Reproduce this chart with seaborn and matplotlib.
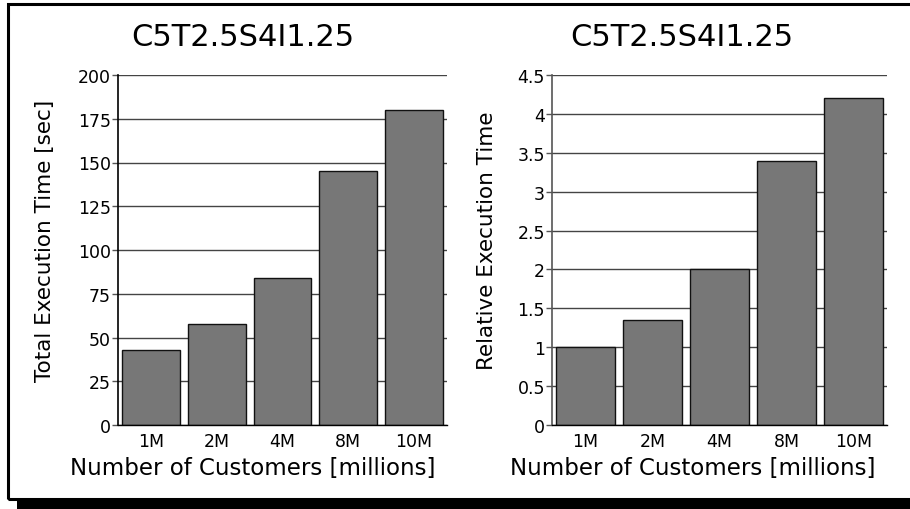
import matplotlib
matplotlib.use("Agg")
import matplotlib.pyplot as plt
import seaborn as sns
import pandas as pd
from matplotlib.patches import Rectangle

# --- data -------------------------------------------------------------
customers = ["1M", "2M", "4M", "8M", "10M"]
total_seconds = [43, 58, 84, 145, 180]
relative_time = [1.0, 1.35, 2.0, 3.4, 4.2]

seconds_ticks = [0, 25, 50, 75, 100, 125, 150, 175, 200]
seconds_labels = ["0", "25", "50", "75", "100", "125", "150", "175", "200"]
relative_ticks = [0, 0.5, 1, 1.5, 2, 2.5, 3, 3.5, 4, 4.5]
relative_labels = ["0", "0.5", "1", "1.5", "2", "2.5", "3", "3.5", "4", "4.5"]

dataset_name = "C5T2.5S4I1.25"
x_title = "Number of Customers [millions]"
y_title_total = "Total Execution Time [sec]"
y_title_relative = "Relative Execution Time"

# --- style ------------------------------------------------------------
sns.set_theme(style="white")
plt.rcParams["font.family"] = ["DejaVu Sans"]
plt.rcParams["text.color"] = "black"
plt.rcParams["axes.labelcolor"] = "black"
plt.rcParams["xtick.color"] = "black"
plt.rcParams["ytick.color"] = "black"

W, H = 910, 510
fig = plt.figure(figsize=(W / 100, H / 100), dpi=100)
fig.patch.set_facecolor("white")


def px_box(left, top, right, bottom):
    return [left / W, 1 - bottom / H, (right - left) / W, (bottom - top) / H]


ax1 = fig.add_axes(px_box(118, 76, 447, 426))
ax2 = fig.add_axes(px_box(552, 76, 887, 426))

panels = [
    dict(ax=ax1, values=total_seconds, ylabel=y_title_total,
         ticks=seconds_ticks, labels=seconds_labels, ylim=(0, 200),
         width=0.88, title_x=0.38, xlabel_x=0.41, ylabel_x=-0.19,
         spine="black"),
    dict(ax=ax2, values=relative_time, ylabel=y_title_relative,
         ticks=relative_ticks, labels=relative_labels, ylim=(0, 4.5),
         width=0.87, title_x=0.388, xlabel_x=0.421, ylabel_x=-0.164,
         spine="#555555"),
]

for p in panels:
    ax = p["ax"]
    df = pd.DataFrame({"customers": customers, "value": p["values"]})
    sns.barplot(data=df, x="customers", y="value", ax=ax,
                color="#777777", saturation=1, width=p["width"],
                edgecolor="#111111", linewidth=1, zorder=3)
    ax.set_facecolor("white")
    ax.set_xlim(-0.5, 4.5)
    ax.set_ylim(*p["ylim"])
    ax.set_yticks(p["ticks"])
    ax.set_yticklabels(p["labels"])
    ax.set_axisbelow(True)
    ax.yaxis.grid(True, color="#444444", linewidth=1)
    ax.xaxis.grid(False)

    for side in ("top", "right"):
        ax.spines[side].set_visible(False)
    ax.spines["left"].set_color(p["spine"])
    ax.spines["left"].set_linewidth(1.2)
    ax.spines["bottom"].set_color("black")
    ax.spines["bottom"].set_linewidth(1)
    ax.spines["left"].set_zorder(4)
    ax.spines["bottom"].set_zorder(4)

    # category labels without marks, short marks between categories
    ax.tick_params(axis="x", which="major", length=0, pad=5,
                   labelsize=12.5, labelcolor="black")
    ax.set_xticks([0.5, 1.5, 2.5, 3.5], minor=True)
    ax.tick_params(axis="x", which="minor", length=4, width=1,
                   direction="out", color="#555555")
    ax.tick_params(axis="y", length=4, width=1, direction="out",
                   color="#555555", pad=1, labelsize=12.5,
                   labelcolor="black", left=True)

    ax.set_title(dataset_name, fontsize=22, color="black", x=p["title_x"],
                 y=1 + 30 / 350, va="baseline", pad=0)

    ax.set_xlabel(x_title, fontsize=16.5, color="black")
    ax.xaxis.label.set_va("baseline")
    ax.xaxis.set_label_coords(p["xlabel_x"], -49 / 350)

    ax.set_ylabel(p["ylabel"], fontsize=15.5, color="black")
    ax.yaxis.set_label_coords(p["ylabel_x"], 0.528)

# --- outer frame with drop shadow ------------------------------------
fig.add_artist(Rectangle((17 / W, 0), (W + 40 - 17) / W, 10 / H,
                         transform=fig.transFigure, facecolor="black",
                         edgecolor="none", zorder=0))
fig.add_artist(Rectangle((7.5 / W, 1 - 499.5 / H), (W + 40) / W,
                         (499.5 - 4.5) / H, transform=fig.transFigure,
                         facecolor="none", edgecolor="black",
                         linewidth=2.2, zorder=0))

fig.savefig("out.png", dpi=100, facecolor="white")
